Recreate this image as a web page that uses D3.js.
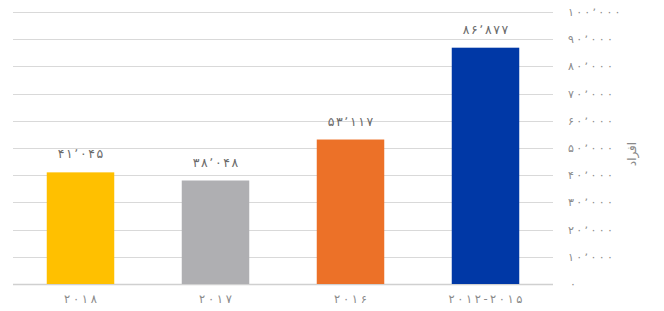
<!DOCTYPE html>
<html lang="fa">
<head>
<meta charset="utf-8">
<script src="https://cdn.jsdelivr.net/npm/d3@7"></script>
<style>
  html,body{margin:0;padding:0;background:#fff;}
  svg{display:block;font-family:"DejaVu Sans","Noto Sans",sans-serif;}
</style>
</head>
<body>
<svg id="chart" width="664" height="311"></svg>
<script>
/* داده‌ها */
const categories = ["۲۰۱۸", "۲۰۱۷", "۲۰۱۶", "۲۰۱۲-۲۰۱۵"];
const values = [41045, 38048, 53117, 86877];
const barColors = ["#FFC000", "#AFAFB2", "#EC7128", "#0038A6"];
const yTicks = [0, 10000, 20000, 30000, 40000, 50000, 60000, 70000, 80000, 90000, 100000];
const axisTitle = "افراد";

/* اعداد فارسی با جداکننده هزارگان */
const faDigits = "۰۱۲۳۴۵۶۷۸۹";
function fa(v){
  const s = d3.format(",")(v).replace(/,/g, "٬");
  return s.replace(/[0-9]/g, d => faDigits[+d]);
}

const svg = d3.select("#chart");
const x = d3.scaleBand().domain(categories).range([13, 553]).paddingInner(0.5).paddingOuter(0.25);
const y = d3.scaleLinear().domain([0, 100000]).range([284, 12]);

/* خطوط شبکه */
svg.append("g").selectAll("line").data(yTicks).join("line")
  .attr("x1", 13).attr("x2", 553)
  .attr("y1", d => Math.round(y(d)) + 0.5).attr("y2", d => Math.round(y(d)) + 0.5)
  .attr("stroke", d => d === 0 ? "#D0D0D0" : "#D9D9D9")
  .attr("stroke-width", d => d === 0 ? 1.5 : 1);

/* ستون‌ها */
svg.append("g").selectAll("rect").data(values).join("rect")
  .attr("x", (d, i) => x(categories[i]))
  .attr("width", x.bandwidth())
  .attr("y", d => y(d))
  .attr("height", d => y(0) - y(d))
  .attr("fill", (d, i) => barColors[i]);

/* برچسب مقادیر */
svg.append("g").selectAll("text").data(values).join("text")
  .attr("x", (d, i) => x(categories[i]) + x.bandwidth() / 2)
  .attr("y", d => y(d) - 14)
  .attr("text-anchor", "middle")
  .attr("font-size", 12.5)
  .attr("fill", "#6A6A6A")
  .text(d => fa(d))
  .attr("textLength", d => fa(d).length * 7.6)
  .attr("lengthAdjust", "spacing");

/* محور دسته‌ها */
svg.append("g").selectAll("text").data(categories).join("text")
  .attr("x", d => x(d) + x.bandwidth() / 2)
  .attr("y", 303)
  .attr("text-anchor", "middle")
  .attr("font-size", 11.5)
  .attr("fill", "#8A8A8A")
  .text(d => d)
  .attr("textLength", d => d.length * 8.2)
  .attr("lengthAdjust", "spacing");

/* محور مقادیر (راست) */
svg.append("g").selectAll("text").data(yTicks).join("text")
  .attr("x", d => d === 0 ? 570 : 568)
  .attr("y", d => y(d) + 4)
  .attr("font-size", 11)
  .attr("fill", "#8A8A8A")
  .text(d => fa(d))
  .each(function(d){
    const s = fa(d);
    if(s.length > 1) d3.select(this).attr("textLength", s.length * 7.5).attr("lengthAdjust", "spacing");
  });

/* عنوان محور */
svg.append("text")
  .attr("transform", "translate(636,154) rotate(-90)")
  .attr("text-anchor", "middle")
  .attr("font-size", 12)
  .attr("fill", "#8A8A8A")
  .text(axisTitle);
</script>
</body>
</html>
